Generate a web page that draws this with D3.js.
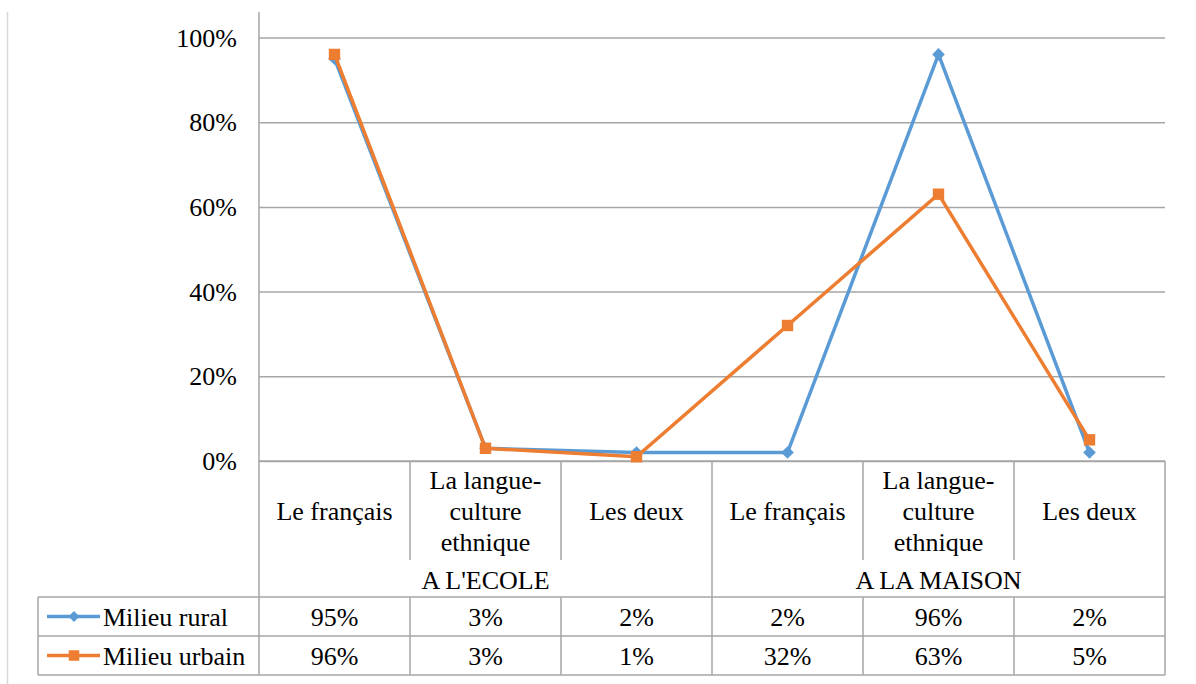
<!DOCTYPE html>
<meta charset="utf-8">
<svg width="1196" height="684" style="font-family: 'Times New Roman', serif; display: block;"></svg>
<script src="https://cdn.jsdelivr.net/npm/d3@7"></script>
<script>

// categories (multi-line labels), groups, series
var categories = [
  ["Le français"],
  ["La langue-", "culture", "ethnique"],
  ["Les deux"],
  ["Le français"],
  ["La langue-", "culture", "ethnique"],
  ["Les deux"]
];
var groups = ["A L'ECOLE", "A LA MAISON"];
var seriesNames = ["Milieu rural", "Milieu urbain"];
var rural = [0.95, 0.03, 0.02, 0.02, 0.96, 0.02];
var urban = [0.96, 0.03, 0.01, 0.32, 0.63, 0.05];
var colors = ["#5b9bd5", "#ed7d31"];
var yTicks = [0, 0.2, 0.4, 0.6, 0.8, 1];

d3.select("body").style("margin", "0px");

var svg = d3.select("svg"),
    plotLeft = 259, plotRight = 1165,
    plotTop = 37.5, plotBottom = 461,
    legendLeft = 38,
    headerBottom = 597, rowH = 39,
    gridColor = "#a6a6a6";

var x = d3.scaleBand().domain(d3.range(categories.length)).range([plotLeft, plotRight]),
    y = d3.scaleLinear().domain([0, 1]).range([plotBottom, plotTop]);

var series = [rural, urban];

function font(sel) {
  sel.style("font-family", "Times New Roman")
    .style("font-size", "26px")
    .attr("fill", "#000");
}

function rule(g, x1, y1, x2, y2) {
  g.append("line").attr("x1", x1).attr("y1", y1).attr("x2", x2).attr("y2", y2)
      .attr("stroke", gridColor).attr("stroke-width", 1.5);
}

// outer frame (left edge only visible)
svg.append("line").attr("x1", 7.5).attr("x2", 7.5).attr("y1", 12).attr("y2", 684)
    .attr("stroke", "#d9d9d9").attr("stroke-width", 1.5);

// gridlines
svg.append("g")
    .attr("transform", "translate(" + plotLeft + ",0)")
    .call(d3.axisLeft(y).tickValues(yTicks).tickSize(-(plotRight - plotLeft)).tickFormat(""))
    .call(function(g) {
      g.select(".domain").remove();
      g.selectAll("line").attr("stroke", gridColor).attr("stroke-width", 1.5);
    });

// y labels
svg.selectAll(".ylab")
  .data(yTicks)
  .enter().append("text")
    .attr("class", "ylab")
    .attr("x", plotLeft - 22)
    .attr("y", function(d) { return y(d) + 9; })
    .attr("text-anchor", "end")
    .call(font)
    .text(d3.format(".0%"));

// y axis line + table lines
var tbl = svg.append("g");
rule(tbl, plotLeft, 12, plotLeft, plotBottom);
var tableBottom = headerBottom + rowH * seriesNames.length;
d3.range(categories.length + 1).forEach(function(i) {
  var xx = i < categories.length ? x(i) : plotRight;
  rule(tbl, xx, plotBottom, xx, i % 3 === 0 ? tableBottom : 560);
  if (i % 3 !== 0) rule(tbl, xx, headerBottom, xx, tableBottom);
});
rule(tbl, plotLeft, plotBottom, plotRight, plotBottom);
d3.range(seriesNames.length + 1).forEach(function(r) {
  var yy = headerBottom + r * rowH;
  rule(tbl, legendLeft, yy, plotRight, yy);
});
rule(tbl, legendLeft, headerBottom, legendLeft, tableBottom);

// category labels
var cx = function(i) { return x(i) + x.bandwidth() / 2; };
categories.forEach(function(lines, i) {
  lines.forEach(function(l, k) {
    svg.append("text")
        .attr("text-anchor", "middle")
        .attr("x", cx(i))
        .attr("y", 520 - (lines.length - 1) * 31 / 2 + k * 31)
        .call(font)
        .text(l);
  });
});

// group labels
groups.forEach(function(gname, k) {
  var x0 = x(k * 3), x1 = k * 3 + 3 < categories.length ? x(k * 3 + 3) : plotRight;
  svg.append("text")
      .attr("text-anchor", "middle")
      .attr("x", (x0 + x1) / 2)
      .attr("y", 589)
      .call(font)
      .text(gname);
});

// data rows
var pct = d3.format(".0%");
series.forEach(function(vals, s) {
  var rowY = headerBottom + s * rowH + rowH / 2;
  var leg = svg.append("g");
  leg.append("line")
      .attr("x1", 47).attr("x2", 100).attr("y1", rowY).attr("y2", rowY)
      .attr("stroke", colors[s]).attr("stroke-width", 3.5);
  leg.append("path")
      .attr("d", d3.symbol().type(d3.symbolSquare).size(s === 0 ? 60 : 110)())
      .attr("transform", "translate(74," + rowY + ")" + (s === 0 ? " rotate(45)" : ""))
      .attr("fill", colors[s]);
  leg.append("text")
      .attr("x", 103).attr("y", rowY + 9)
      .call(font)
      .text(seriesNames[s]);

  vals.forEach(function(v, i) {
    svg.append("text")
        .attr("text-anchor", "middle")
        .attr("x", cx(i)).attr("y", rowY + 9)
        .call(font)
        .text(pct(v));
  });
});

// lines and markers
var line = d3.line()
    .x(function(d, i) { return cx(i); })
    .y(function(d) { return y(d); });

series.forEach(function(vals, s) {
  svg.append("path")
      .attr("d", line(vals))
      .attr("fill", "none")
      .attr("stroke", colors[s])
      .attr("stroke-width", 3.5);
  svg.append("g").selectAll("path")
    .data(vals)
    .enter().append("path")
      .attr("d", d3.symbol().type(d3.symbolSquare).size(s === 0 ? 80 : 130)())
      .attr("transform", function(d, i) {
        return "translate(" + cx(i) + "," + y(d) + ")" + (s === 0 ? " rotate(45)" : "");
      })
      .attr("fill", colors[s]);
});

</script>
